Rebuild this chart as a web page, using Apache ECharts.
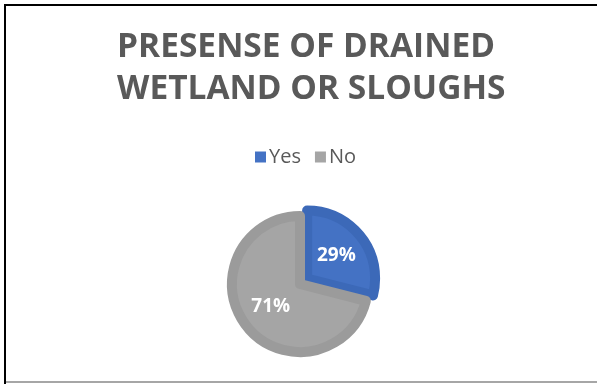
<!DOCTYPE html>
<html>
<head>
<meta charset="utf-8">
<script src="https://cdn.jsdelivr.net/npm/echarts@6/dist/echarts.min.js"></script>
<style>
  html, body { margin: 0; padding: 0; background: #fff; }
  #chart { width: 597px; height: 384px; }
</style>
</head>
<body>
<div id="chart"></div>
<script>
// Answers to the survey question, as shares of respondents (%)
const categories = ['Yes', 'No'];
const shares = [29, 71];
const chartTitle = 'PRESENSE OF DRAINED\nWETLAND OR SLOUGHS';

const fills = ['#4472c4', '#a5a5a5'];
const edges = ['#3c69b8', '#9b9b9b'];

const chart = echarts.init(document.getElementById('chart'), null, { renderer: 'canvas' });

chart.setOption({
  animation: false,
  backgroundColor: '#ffffff',
  title: {
    text: chartTitle,
    left: 112,
    top: 21,
    textAlign: 'left',
    textStyle: {
      fontFamily: 'Open Sans',
      fontWeight: 'bold',
      fontSize: 33.5,
      lineHeight: 42,
      color: '#595959',
      align: 'center'
    }
  },
  legend: {
    top: 142,
    left: 250,
    itemWidth: 11,
    itemHeight: 11,
    itemGap: 14,
    icon: 'rect',
    selectedMode: false,
    textStyle: { fontFamily: 'Open Sans', fontSize: 20, color: '#595959', padding: [0, 0, 0, -2] },
    itemStyle: { borderWidth: 0 },
    data: categories
  },
  graphic: [
    { type: 'rect', shape: { x: 4, y: 4, width: 593, height: 2 }, style: { fill: '#000' } },
    { type: 'rect', shape: { x: 4, y: 4, width: 2, height: 380 }, style: { fill: '#000' } },
    { type: 'rect', shape: { x: 6, y: 381, width: 591, height: 2 }, style: { fill: '#a6a6a6' } }
  ],
  series: [{
    type: 'pie',
    center: [300, 284],
    radius: [0, 68],
    startAngle: 90,
    clockwise: true,
    selectedMode: 'single',
    selectedOffset: 9,
    emphasis: { disabled: true },
    label: {
      show: true,
      position: 'inside',
      formatter: '{c}%',
      fontFamily: 'Open Sans',
      fontWeight: 'bold',
      fontSize: 19,
      color: '#ffffff'
    },
    labelLine: { show: false },
    data: categories.map((name, i) => ({
      name: name,
      value: shares[i],
      selected: i === 0,
      itemStyle: { color: fills[i], borderColor: edges[i], borderWidth: 10, borderJoin: 'round' }
    }))
  }]
});
</script>
</body>
</html>
